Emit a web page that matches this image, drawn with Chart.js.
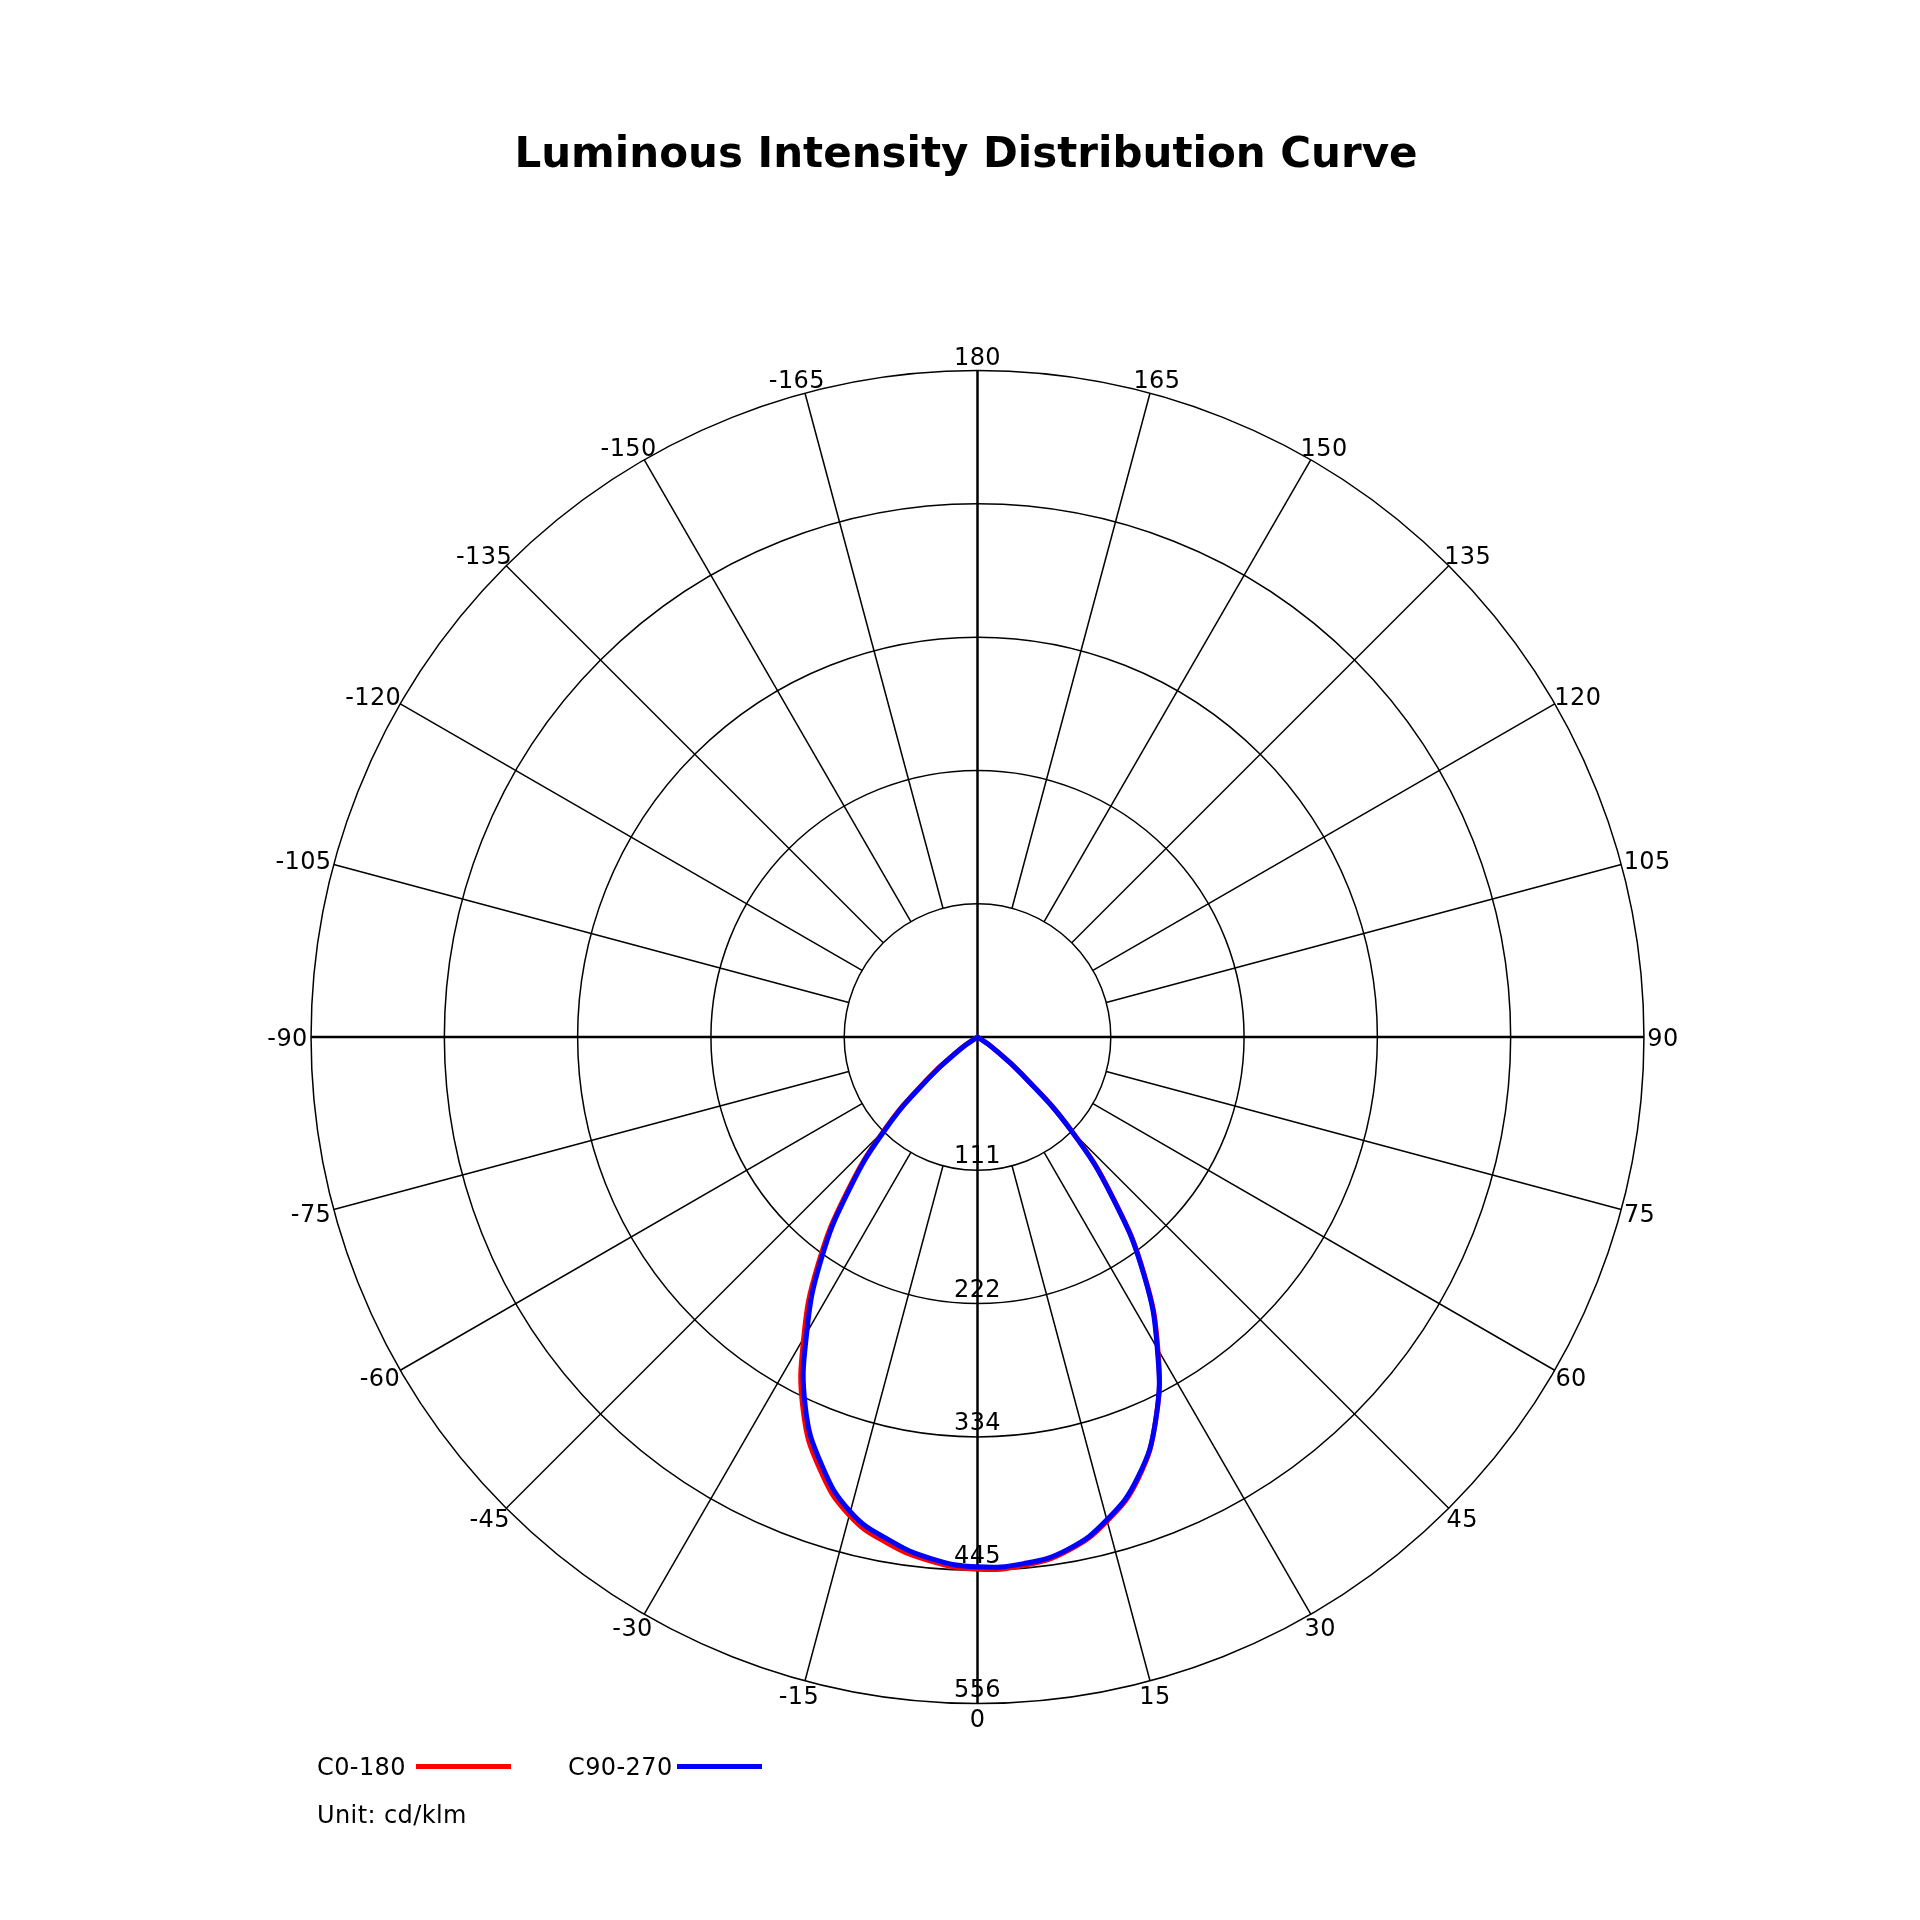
<!DOCTYPE html>
<html>
<head>
<meta charset="utf-8">
<title>Luminous Intensity Distribution Curve</title>
<script src="https://cdn.jsdelivr.net/npm/chart.js@4.4.1/dist/chart.umd.min.js"></script>
<style>
  html, body { margin: 0; padding: 0; background: #fff; }
  #wrap { position: relative; width: 1920px; height: 1920px; overflow: hidden; }
  #chart-ldc { position: absolute; left: 0; top: 0; }
  .ldc-title {
    position: absolute; left: 0; top: 132px; width: 1932px;
    text-align: center; font: bold 42px/42px "DejaVu Sans", sans-serif; color: #000;
  }
  .ldc-text {
    position: absolute; font: 24px/24px "DejaVu Sans", sans-serif; letter-spacing: 0.4px;
    color: #000; white-space: nowrap;
  }
  .ldc-swatch { position: absolute; height: 5px; }
</style>
</head>
<body>
<div id="wrap">
  <canvas id="chart-ldc" width="1920" height="1920"></canvas>
  <div class="ldc-title">Luminous Intensity Distribution Curve</div>
  <div id="chart-ldc-legend"></div>
</div>
<script>
/* ── Data (cd/klm), gamma angle in degrees, 0 = straight down ── */
const GAMMA = [-90, -85, -80, -75, -70, -65, -60, -55, -50, -45, -40, -35, -30, -25, -20, -15, -10, -5,
               0, 5, 10, 15, 20, 25, 30, 35, 40, 45, 50, 55, 60, 65, 70, 75, 80, 85, 90];

const C0_180 = [0, 0, 0, 0, 0, 0, 0, 18, 55, 110, 170, 232, 290, 344, 384, 413, 429, 439,
                444, 442.5, 435, 418, 392, 352, 301, 243, 177, 112, 49, 15, 0, 0, 0, 0, 0, 0, 0];

const C90_270 = [0, 0, 0, 0, 0, 0, 0, 16, 52, 108, 167, 228, 285, 340, 380, 410, 426, 437,
                 442, 441, 434, 417, 391, 352, 300, 242, 176, 111, 48, 15, 0, 0, 0, 0, 0, 0, 0];

const RING_TICKS  = [111.2, 222.4, 333.6, 444.8, 556];
const RING_LABELS = ['111', '222', '334', '445', '556'];
const ANGLE_TICKS = [0, 15, 30, 45, 60, 75, 90, 105, 120, 135, 150, 165, 180,
                     -165, -150, -135, -120, -105, -90, -75, -60, -45, -30, -15];

const SERIES = [
  { label: 'C90-270', values: C90_270, color: '#0000ff' },
  { label: 'C0-180',  values: C0_180,  color: '#ff0000' },
];

const LEGEND = [
  { label: 'C0-180',  color: '#ff0000', textX: 317, lineX: 416, lineW: 95 },
  { label: 'C90-270', color: '#0000ff', textX: 568, lineX: 677, lineW: 85 },
];

// polar (gamma, I) -> cartesian, 0° pointing down, +gamma to the right
const toXY = vals => GAMMA.map((g, i) => {
  const t = g * Math.PI / 180;
  return { x: vals[i] * Math.sin(t), y: -vals[i] * Math.cos(t) };
});

// ── Polar grid drawn under the curves ──
const polarGrid = {
  id: 'polarGrid',
  beforeDatasetsDraw(chart) {
    const { ctx, scales: { x, y } } = chart;
    const cx = x.getPixelForValue(0);
    const cy = y.getPixelForValue(0);
    const rad = v => x.getPixelForValue(v) - cx;
    const rIn = rad(RING_TICKS[0]);
    const rOut = rad(RING_TICKS[RING_TICKS.length - 1]);

    ctx.save();
    ctx.strokeStyle = '#000';

    // rings
    ctx.lineWidth = 1.5;
    RING_TICKS.forEach(v => {
      ctx.beginPath();
      ctx.arc(cx, cy, rad(v), 0, Math.PI * 2);
      ctx.stroke();
    });

    // spokes (the four main axes run through the centre)
    ANGLE_TICKS.forEach(a => {
      const t = a * Math.PI / 180;
      const dx = Math.sin(t), dy = Math.cos(t);
      const main = a % 90 === 0;
      const r0 = main ? 0 : rIn;
      ctx.lineWidth = main ? 2.5 : 1.5;
      ctx.beginPath();
      ctx.moveTo(cx + dx * r0, cy + dy * r0);
      ctx.lineTo(cx + dx * rOut, cy + dy * rOut);
      ctx.stroke();
    });

    // angle labels
    ctx.fillStyle = '#000';
    ctx.font = '24px "DejaVu Sans"';
    ctx.letterSpacing = '0.4px';
    ctx.textAlign = 'center';
    ctx.textBaseline = 'alphabetic';
    const capH = 17.5;
    ANGLE_TICKS.forEach(a => {
      const t = a * Math.PI / 180;
      const dx = Math.sin(t), dy = Math.cos(t);
      const txt = String(a);
      const w = ctx.measureText(txt).width;
      const lx = cx + dx * (rOut + w / 2 + 3.3);
      const ly = cy + dy * (rOut + capH / 2 + 6);
      ctx.fillText(txt, lx, ly + capH / 2);
    });

    // ring value labels along the 0° axis
    RING_TICKS.forEach((v, i) => {
      ctx.fillText(RING_LABELS[i], cx, cy + rad(v) - 6.9);
    });
    ctx.restore();
  }
};

new Chart(document.getElementById('chart-ldc'), {
  type: 'scatter',
  data: {
    datasets: SERIES.map((s, i) => ({
      label: s.label,
      data: toXY(s.values),
      showLine: true,
      borderColor: s.color,
      backgroundColor: s.color,
      borderWidth: 5,
      borderJoinStyle: 'round',
      borderCapStyle: 'round',
      pointRadius: 0,
      tension: 0.45,
      order: i,
    }))
  },
  options: {
    responsive: false,
    animation: false,
    devicePixelRatio: 1,
    layout: { padding: { left: 90.5, right: 55.5, top: 150, bottom: 43.9 } },
    plugins: { legend: { display: false }, tooltip: { enabled: false } },
    scales: {
      x: { type: 'linear', min: -740, max: 740, display: false },
      y: { type: 'linear', min: -700, max: 740, display: false }
    }
  },
  plugins: [polarGrid]
});

// ── Custom legend ──
const legendEl = document.getElementById('chart-ldc-legend');
legendEl.innerHTML = LEGEND.map(l =>
  `<div class="ldc-text" style="left:${l.textX}px;top:1755px">${l.label}</div>
   <div class="ldc-swatch" style="left:${l.lineX}px;top:1764px;width:${l.lineW}px;background:${l.color}"></div>`
).join('') + `<div class="ldc-text" style="left:317px;top:1803px">Unit: cd/klm</div>`;
</script>
</body>
</html>
